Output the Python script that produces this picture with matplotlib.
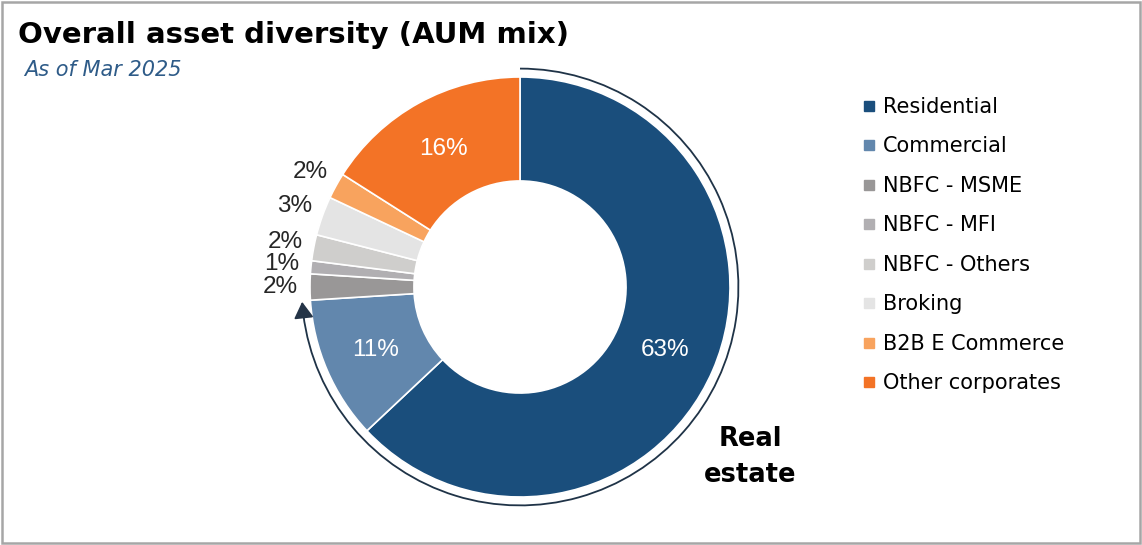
import matplotlib
matplotlib.use('Agg')
import matplotlib.pyplot as plt
from matplotlib.patches import Arc, Rectangle
from matplotlib.lines import Line2D
import numpy as np

# AUM mix as of Mar 2025 (%)
segments = ['Residential', 'Commercial', 'NBFC - MSME', 'NBFC - MFI',
            'NBFC - Others', 'Broking', 'B2B E Commerce', 'Other corporates']
shares = [63, 11, 2, 1, 2, 3, 2, 16]
colors = ['#1a4e7c', '#6287ad', '#999797', '#b1afb2',
          '#cfcecc', '#e4e4e4', '#f8a35e', '#f37326']
inside = [True, True, False, False, False, False, False, True]
real_estate_share = shares[0] + shares[1]

W, H = 1142, 545
fig = plt.figure(figsize=(W / 100, H / 100), dpi=100)
fig.patch.set_facecolor('white')

# axes centred on the donut: centre (520, 287) px, radius 210 px
R_PX = 210
LIM = 1.2
cx, cy = 520, 287
aw = 2 * LIM * R_PX
ax = fig.add_axes([(cx - aw / 2) / W, (H - cy - aw / 2) / H, aw / W, aw / H])

wedges, _ = ax.pie(shares, colors=colors, startangle=90, counterclock=False,
                   radius=1.0, wedgeprops=dict(width=0.495, edgecolor='white', linewidth=1.2))
ax.set_xlim(-LIM, LIM)
ax.set_ylim(-LIM, LIM)
ax.set_aspect('equal')
ax.axis('off')

total = sum(shares)
cum = 0
for val, ins in zip(shares, inside):
    mid = 90 - (cum + val / 2) / total * 360
    cum += val
    a = np.deg2rad(mid)
    if ins:
        r = 0.752
        ax.text(r * np.cos(a), r * np.sin(a), f'{val}%', color='white',
                ha='center', va='center', fontsize=17.5, family='Liberation Sans')
    else:
        r = 1.14
        ax.text(r * np.cos(a), r * np.sin(a), f'{val}%', color='#262626',
                ha='center', va='center', fontsize=17.5, family='Liberation Sans')

# bracket arc over the real estate slices
end_ang = 90 - real_estate_share / total * 360 + 360
RA = 1.04
arc = Arc((0, 0), 2 * RA, 2 * RA, theta1=end_ang + 3.5, theta2=90,
          color='#1f3347', lw=1.3)
ax.add_patch(arc)
tip_a = np.deg2rad(end_ang + 0.3)
base_a = np.deg2rad(end_ang + 4.5)
ax.annotate('', xy=(RA * np.cos(tip_a), RA * np.sin(tip_a)),
            xytext=(RA * np.cos(base_a), RA * np.sin(base_a)),
            arrowprops=dict(arrowstyle='-|>,head_width=0.3,head_length=0.5',
                            mutation_scale=20, color='#243447', lw=1.3,
                            shrinkA=0, shrinkB=0))

ax.text((750 - cx) / R_PX, (cy - 457) / R_PX, 'Real\nestate', ha='center', va='center',
        fontsize=18.5, fontweight='bold', color='black', linespacing=1.5)

# titles
fig.text(18 / W, 1 - 35 / H, 'Overall asset diversity (AUM mix)', fontsize=21,
         fontweight='bold', color='black', va='center', ha='left')
fig.text(24 / W, 1 - 70 / H, 'As of Mar 2025', fontsize=15, style='italic',
         color='#2e5b88', va='center', ha='left')

# legend
handles = [Line2D([], [], marker='s', linestyle='none', markersize=7.5,
                  markerfacecolor=c, markeredgecolor=c) for c in colors]
fig.legend(handles, segments, loc='upper left', bbox_to_anchor=(863 / W, 1 - 97 / H),
           frameon=False, fontsize=15, labelspacing=0.935, handlelength=0.6,
           handletextpad=0.35, borderpad=0, borderaxespad=0)

fig.add_artist(Rectangle((0.0015, 0.003), 0.997, 0.994, transform=fig.transFigure,
                         fill=False, edgecolor='#a6a6a6', linewidth=1.8))

fig.savefig('out.png', dpi=100)
